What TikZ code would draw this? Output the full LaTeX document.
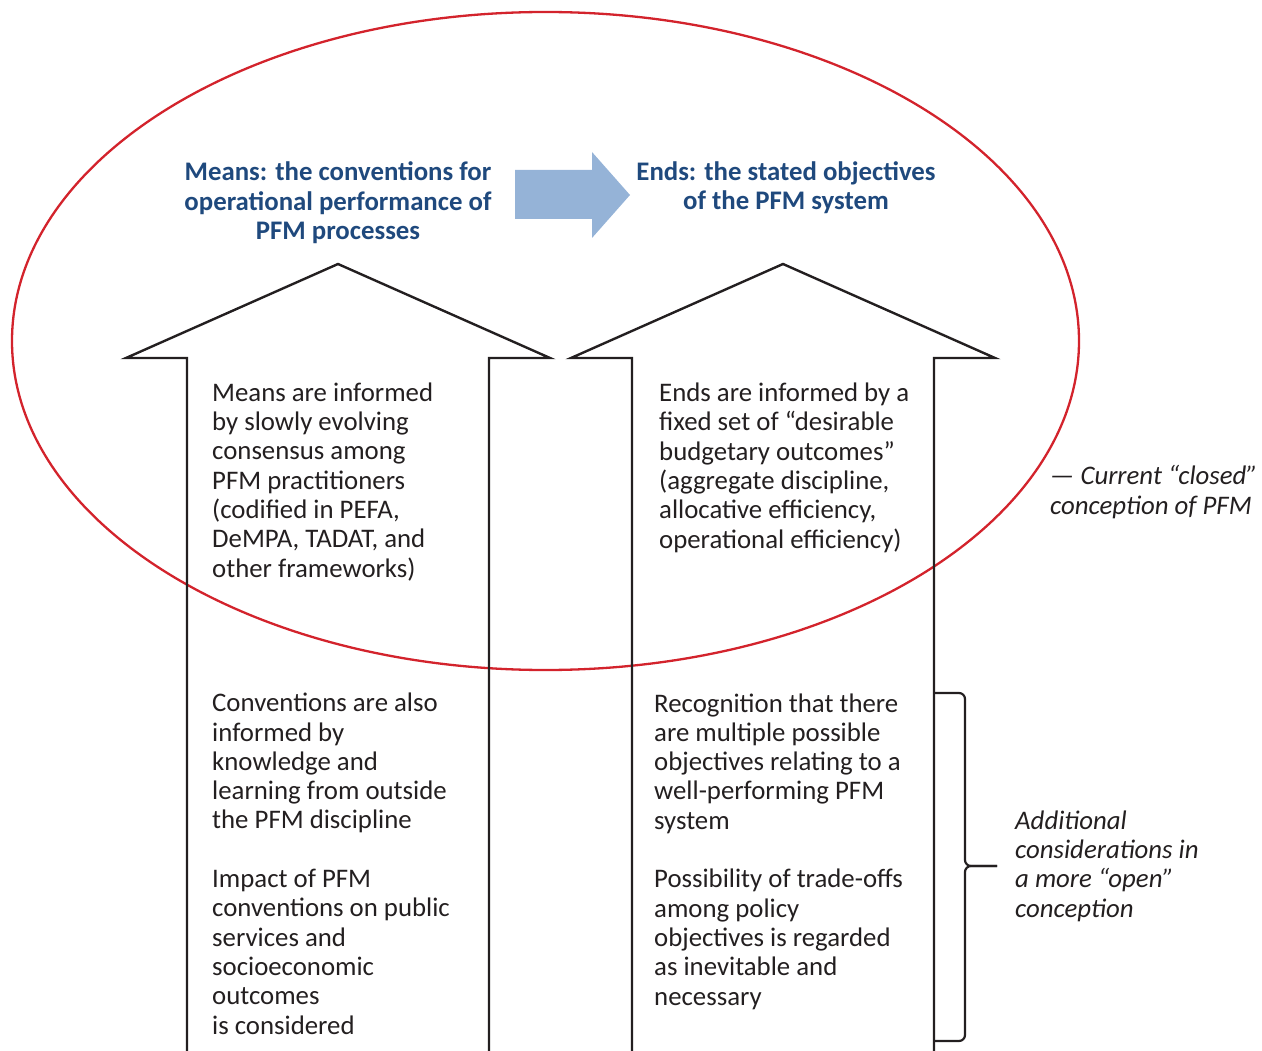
\documentclass[tikz,border=0pt]{standalone}
\usepackage{fontspec}
\setmainfont{Carlito}
\definecolor{ink}{RGB}{35,31,32}
\definecolor{titleblue}{RGB}{31,73,125}
\definecolor{ringred}{RGB}{211,35,44}
\definecolor{flowblue}{RGB}{149,179,215}
\begin{document}
\begin{tikzpicture}[x=1pt,y=-1pt,
  % multi-line nodes are placed by the baseline of their last line
  body/.style={inner sep=0pt,anchor=base west,align=left,text=ink,
    font=\fontsize{26.8}{29.3}\selectfont},
  heading/.style={inner sep=0pt,anchor=base,align=center,text=titleblue,
    font=\bfseries\fontsize{26.8}{29.5}\selectfont},
  aside/.style={inner sep=0pt,anchor=base west,align=left,text=ink,
    font=\itshape\fontsize{26.8}{29.3}\selectfont},
  outline/.style={draw=ink,line width=2.4pt,line join=miter}]
\useasboundingbox (0,0) rectangle (1262,1051);

% the "closed" conception
\draw[ringred,line width=2.3pt] (545.5,341) ellipse [x radius=533.5pt,y radius=329pt];

% two upward block arrows (open at the bottom)
\draw[outline] (187,1051) -- (187,358) -- (126,358) -- (338,264) -- (550,358) -- (489,358) -- (489,1051);
\draw[outline] (632,1051) -- (632,358) -- (571,358) -- (783,264) -- (995,358) -- (934,358) -- (934,1051);

% headings and the means-to-ends arrow
\node[heading] (means) at (338,240) {Means: the conventions for\\operational performance of\\PFM processes};
\node[heading] (ends) at (786,210) {Ends: the stated objectives\\of the PFM system};
\fill[flowblue] (515,170) -- (592,170) -- (592,152) -- (630,195) -- (592,238) -- (592,219) -- (515,219) -- cycle;

% texts inside the arrows
\node[body] (meansclosed) at (212,577) {Means are informed\\by slowly evolving\\consensus among\\PFM practitioners\\(codified in PEFA,\\DeMPA, TADAT, and\\other frameworks)};
\node[body] (endsclosed) at (659,548) {Ends are informed by a\\fixed set of “desirable\\budgetary outcomes”\\(aggregate discipline,\\allocative efficiency,\\operational efficiency)};
\node[body] (meansopen) at (212,1034) {Conventions are also\\informed by\\knowledge and\\learning from outside\\the PFM discipline\\[29.3pt]Impact of PFM\\conventions on public\\services and\\socioeconomic\\outcomes\\is considered};
\node[body] (endsopen) at (654,1005) {Recognition that there\\are multiple possible\\objectives relating to a\\well-performing PFM\\system\\[29.3pt]Possibility of trade-offs\\among policy\\objectives is regarded\\as inevitable and\\necessary};

% side notes
\node[aside] (closednote) at (1050,514) {— Current “closed”\\conception of PFM};
\node[aside] (opennote) at (1015,917) {Additional\\considerations in\\a more “open”\\conception};

% brace grouping the additional considerations
\draw[ink,line width=2.2pt,rounded corners=6pt] (935,693) -- (965,693) -- (965,866) -- (997,866);
\draw[ink,line width=2.2pt,rounded corners=6pt] (997,866) -- (965,866) -- (965,1041) -- (935,1041);
\end{tikzpicture}
\end{document}
